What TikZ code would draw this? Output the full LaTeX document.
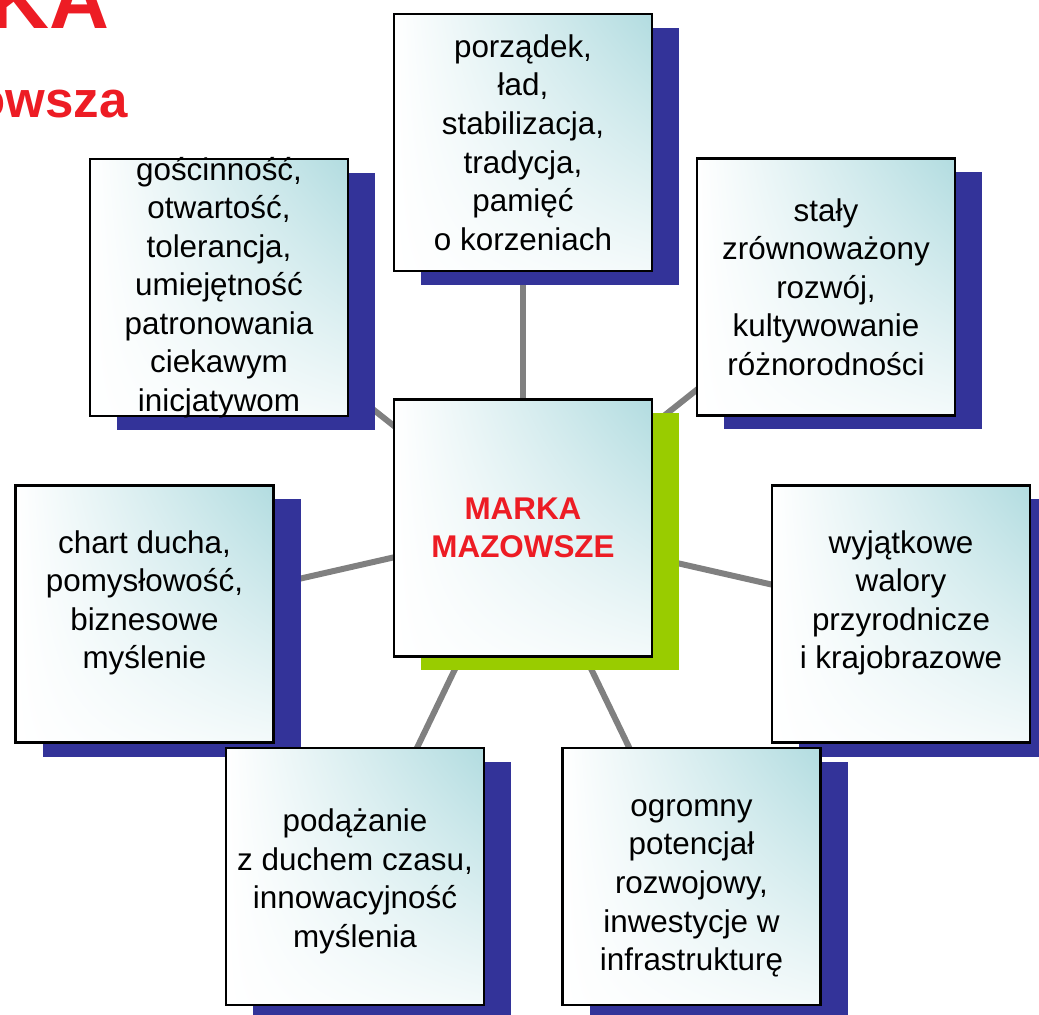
\documentclass[tikz,border=0pt]{standalone}
\usepackage{fontspec}
\setmainfont{Liberation Sans}
\usetikzlibrary{shadows, shadings, backgrounds}

\definecolor{mazred}{RGB}{237,28,36}
\definecolor{mazblue}{RGB}{51,51,153}
\definecolor{mazgreen}{RGB}{153,204,0}
\definecolor{boxtint}{RGB}{178,220,224}
\definecolor{linkgray}{RGB}{128,128,128}

\begin{document}
\begin{tikzpicture}[x=0.5pt,y=-0.5pt,font=\fontsize{15.7}{19.3}\selectfont,
  card/.style={draw=black,line width=1.3pt,align=center,minimum width=129pt,minimum height=128.5pt,
    shading=bilinear interpolation,upper right=boxtint,upper left=white,lower left=white,lower right=white!85!boxtint,
    drop shadow={shadow xshift=13.5pt,shadow yshift=-7pt,fill=mazblue,opacity=1}},
  hubcard/.style={card,font=\fontsize{15.7}{19.3}\selectfont\bfseries,text=mazred,
    drop shadow={shadow xshift=13.5pt,shadow yshift=-7pt,fill=mazgreen,opacity=1}},
  link/.style={draw=linkgray,line width=3pt}]

\useasboundingbox (0,0) rectangle (1039,1015);
\clip (0,0) rectangle (1039,1015);

% Title (cut off at the edge)
\node[anchor=base east,inner sep=0pt,text=mazred,font=\fontsize{41.5}{50}\selectfont\bfseries] (titleA) at (110,29) {KA};
\node[anchor=base east,inner sep=0pt,text=mazred,font=\fontsize{25.5}{30}\selectfont\bfseries] (titleB) at (128,118) {owsza};

% Values
\node[card] (order) at (523,142.5) {porządek,\\ ład,\\ stabilizacja,\\ tradycja,\\ pamięć\\ o korzeniach};
\node[card,inner ysep=-2pt] (hospitality) at (219,287.5) {gościnność,\\ otwartość,\\ tolerancja,\\ umiejętność\\ patronowania\\ ciekawym\\ inicjatywom};
\node[card] (growth) at (826,287) {stały\\ zrównoważony\\ rozwój,\\ kultywowanie\\ różnorodności};
\node[card] (spirit) at (144.5,614) {chart ducha,\\ pomysłowość,\\ biznesowe\\ myślenie\\[-5pt]\mbox{}};
\node[card] (nature) at (901,614) {wyjątkowe\\ walory\\ przyrodnicze\\ i krajobrazowe\\[-5pt]\mbox{}};
\node[card] (zeitgeist) at (355,876.5) {\mbox{}\\[-3pt]podążanie\\ z duchem czasu,\\ innowacyjność\\ myślenia};
\node[card] (potential) at (691.5,876.5) {\mbox{}\\[1pt]ogromny\\ potencjał\\ rozwojowy,\\ inwestycje w\\ infrastrukturę};

% Brand
\node[hubcard] (brand) at (523,528) {MARKA\\ MAZOWSZE};

% Links
\begin{scope}[on background layer]
\foreach \v in {order,hospitality,growth,spirit,nature,zeitgeist,potential}
  \draw[link] (brand.center) -- (\v.center);
\end{scope}

\end{tikzpicture}
\end{document}
